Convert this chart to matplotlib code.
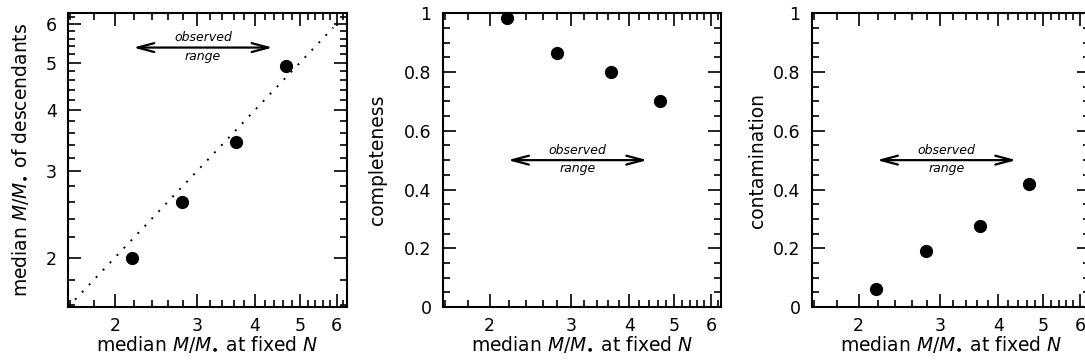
import matplotlib
matplotlib.use("Agg")
import matplotlib.pyplot as plt
import numpy as np
from matplotlib.ticker import FixedLocator, FixedFormatter, NullFormatter

# median M/M* at fixed N, same four bins in every panel
mass_fixed_n = [2.18, 2.79, 3.65, 4.66]

# values of each panel
mass_descendants = [2.00, 2.60, 3.45, 4.93]
completeness = [0.985, 0.865, 0.80, 0.70]
contamination = [0.06, 0.19, 0.275, 0.42]

# observed range (arrow) and the height it is drawn at in each panel
observed_range = [2.19, 4.37]
arrow_level = [5.37, 0.5, 0.5]

# ticks
log_major = [2, 3, 4, 5, 6]
log_minor = [1.6, 1.8, 2.2, 2.4, 2.6, 2.8, 3.2, 3.4, 3.6, 3.8,
             4.2, 4.4, 4.6, 4.8, 5.2, 5.4, 5.6, 5.8, 6.2]
frac_major = [0, 0.2, 0.4, 0.6, 0.8, 1.0]
frac_labels = ['0', '0.2', '0.4', '0.6', '0.8', '1']
frac_minor = [0.05, 0.1, 0.15, 0.25, 0.3, 0.35, 0.45, 0.5, 0.55,
              0.65, 0.7, 0.75, 0.85, 0.9, 0.95]

xlabel = r'median $M/M_{\bullet}$ at fixed $N$'
ylabels = [r'median $M/M_{\bullet}$ of descendants', 'completeness', 'contamination']

plt.rcParams['font.family'] = 'DejaVu Sans'
plt.rcParams['mathtext.fontset'] = 'dejavusans'

fig = plt.figure(figsize=(10.85, 3.64), dpi=100)

# axes boxes (third panel runs off the right edge, as in the original)
boxes = [
    [0.0627, 0.1566, 0.2569, 0.8069],
    [0.4080, 0.1566, 0.2569, 0.8069],
    [0.7481, 0.1566, 0.2569, 0.8069],
]
ylabel_x = [-0.17, -0.235, -0.195]

xlo, xhi = 10 ** 0.2, 10 ** 0.8

for i, box in enumerate(boxes):
    ax = fig.add_axes(box)
    ax.set_xscale('log')
    ax.set_xlim(xlo, xhi)

    if i == 0:
        ax.set_yscale('log')
        ax.set_ylim(xlo, xhi)
        # one-to-one line
        ax.plot([xlo, 5.9], [xlo, 5.9], color='k', lw=1.4,
                linestyle=(0, (1, 4.2)))
        yvals = mass_descendants
        ax.yaxis.set_major_locator(FixedLocator(log_major))
        ax.yaxis.set_major_formatter(FixedFormatter([str(v) for v in log_major]))
        ax.yaxis.set_minor_locator(FixedLocator(log_minor))
        ax.yaxis.set_minor_formatter(NullFormatter())
    else:
        ax.set_ylim(0, 1)
        yvals = completeness if i == 1 else contamination
        ax.yaxis.set_major_locator(FixedLocator(frac_major))
        ax.yaxis.set_major_formatter(FixedFormatter(frac_labels))
        ax.yaxis.set_minor_locator(FixedLocator(frac_minor))

    ax.xaxis.set_major_locator(FixedLocator(log_major))
    ax.xaxis.set_major_formatter(FixedFormatter([str(v) for v in log_major]))
    ax.xaxis.set_minor_locator(FixedLocator(log_minor))
    ax.xaxis.set_minor_formatter(NullFormatter())

    ax.plot(mass_fixed_n, yvals, 'o', color='k', markersize=8.5, clip_on=False)

    # observed range arrow with labels
    ymid = arrow_level[i]
    ax.annotate('', xy=(observed_range[1], ymid), xytext=(observed_range[0], ymid),
                arrowprops=dict(arrowstyle='<->,head_length=1.2,head_width=0.32',
                                lw=1.6, color='k', shrinkA=0, shrinkB=0,
                                mutation_scale=10))
    xmid = np.sqrt(observed_range[0] * observed_range[1])
    ax.annotate('observed', xy=(xmid, ymid), xytext=(0, 2.5),
                textcoords='offset points', ha='center', va='bottom',
                fontsize=9, style='italic')
    ax.annotate('range', xy=(xmid, ymid), xytext=(0, -1.5),
                textcoords='offset points', ha='center', va='top',
                fontsize=9, style='italic')

    for s in ax.spines.values():
        s.set_linewidth(1.5)
    ax.tick_params(which='both', direction='in', top=True, right=True,
                   width=1.2, labelsize=12.5)
    ax.tick_params(axis='x', which='both', pad=7.5)
    ax.tick_params(axis='y', which='both', pad=8)
    ax.tick_params(which='major', length=9.5)
    ax.tick_params(which='minor', length=4.8)

    ax.set_xlabel(xlabel, fontsize=13.5)
    ax.xaxis.set_label_coords(0.5, -0.092)
    ax.set_ylabel(ylabels[i], fontsize=13.5, va='center')
    ax.yaxis.set_label_coords(ylabel_x[i], 0.5)

fig.savefig('out.png', dpi=100)
plt.close(fig)
